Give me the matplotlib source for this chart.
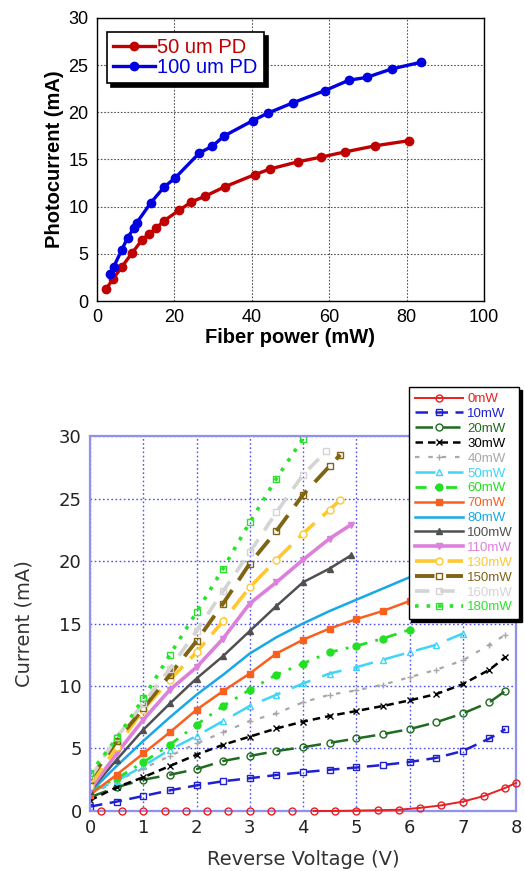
import matplotlib
matplotlib.use("Agg")
import matplotlib.pyplot as plt
import numpy as np

plt.rcParams['font.family'] = ['Liberation Sans', 'DejaVu Sans']

# ---- top chart: photocurrent vs fiber power ----
p50 = [2.4, 4.1, 6.4, 9.1, 11.7, 13.4, 15.3, 17.3, 21.2, 24.4, 27.9, 33.0, 40.8,
       44.8, 51.9, 57.9, 64.1, 71.9, 80.7]
i50 = [1.3, 2.3, 3.6, 5.1, 6.5, 7.1, 7.7, 8.5, 9.6, 10.5, 11.1, 12.1, 13.4,
       14.0, 14.75, 15.25, 15.8, 16.45, 17.0]
p100 = [3.4, 4.3, 6.4, 7.9, 9.5, 10.3, 13.9, 17.4, 20.1, 26.5, 29.8, 32.9, 40.2,
        44.1, 50.6, 58.9, 65.1, 69.7, 76.2, 83.7]
i100 = [2.9, 3.6, 5.4, 6.7, 7.7, 8.3, 10.4, 12.1, 13.0, 15.7, 16.4, 17.5, 19.1,
        19.9, 21.0, 22.3, 23.4, 23.7, 24.6, 25.3]

# ---- bottom chart: current vs reverse voltage ----
v_half = [0, 0.5, 1, 1.5, 2, 2.5, 3, 3.5, 4, 4.5, 5, 5.5, 6, 6.5, 7, 7.5, 7.8]

v0 = [0.2, 0.6, 1.0, 1.4, 1.8, 2.2, 2.6, 3.0, 3.4, 3.8, 4.2, 4.6, 5.0, 5.4, 5.8,
      6.2, 6.6, 7.0, 7.4, 7.8, 8.0]
c0 = [0, 0, 0, 0, 0, 0, 0, 0, 0, 0, 0, 0, 0.03, 0.06, 0.1, 0.25, 0.45, 0.75,
      1.2, 1.85, 2.25]
c10 = [0.35, 0.75, 1.2, 1.65, 2.05, 2.38, 2.62, 2.88, 3.1, 3.3, 3.48, 3.68, 3.92,
       4.25, 4.8, 5.8, 6.55]
c20 = [1.1, 1.9, 2.5, 2.9, 3.35, 4.0, 4.4, 4.8, 5.1, 5.45, 5.8, 6.15, 6.55, 7.1,
       7.8, 8.7, 9.6]
c30 = [0.85, 1.9, 2.7, 3.6, 4.5, 5.3, 5.95, 6.6, 7.15, 7.6, 8.0, 8.4, 8.85, 9.35,
       10.15, 11.3, 12.3]
c40 = [1.3, 2.4, 3.4, 4.4, 5.4, 6.3, 7.2, 7.8, 8.7, 9.3, 9.65, 10.1, 10.7, 11.3,
       12.05, 13.3, 14.1]
c50 = [1.5, 2.4, 3.6, 4.9, 6.0, 7.2, 8.4, 9.3, 10.2, 11.0, 11.5, 12.1, 12.7, 13.3, 14.2]
c60 = [1.6, 2.6, 3.9, 5.3, 6.9, 8.4, 9.7, 10.9, 11.8, 12.7, 13.2, 13.8, 14.5]
c70 = [1.3, 2.9, 4.6, 6.3, 8.1, 9.6, 11.0, 12.6, 13.7, 14.6, 15.35, 16.0, 16.8]
c80 = [1.5, 3.6, 5.6, 7.5, 9.3, 10.9, 12.6, 13.9, 15.0, 16.0, 16.9, 17.8, 18.7]
c100 = [1.6, 4.1, 6.5, 8.6, 10.6, 12.4, 14.4, 16.4, 18.3, 19.4, 20.45]
c110 = [1.7, 4.6, 7.3, 9.7, 11.5, 13.8, 16.6, 18.3, 20.1, 21.8, 22.9]
c130 = [2.0, 5.1, 8.1, 10.5, 12.7, 15.2, 17.9, 20.1, 22.2, 24.1, 24.9]
c150 = [2.5, 5.6, 8.2, 10.9, 13.6, 16.6, 19.8, 22.4, 25.3, 27.6, 28.5]
c160 = [2.6, 5.9, 8.6, 11.4, 14.4, 17.6, 20.7, 23.9, 26.9, 28.8]
c180 = [3.0, 5.8, 9.0, 12.5, 15.9, 19.4, 23.1, 26.6, 29.8]
v_end100 = 4.9
v_end130 = 4.7
v_end160 = 4.44

fig = plt.figure(figsize=(5.24, 8.71), dpi=100)

# top panel
ax1 = fig.add_axes([0.185, 0.6544, 0.7385, 0.325])
ax1.plot(p50, i50, '-o', color='#c00000', lw=2.4, ms=6, label='50 um PD')
ax1.plot(p100, i100, '-o', color='#0000e0', lw=2.4, ms=6, label='100 um PD')
ax1.set_xlim(0, 100)
ax1.set_ylim(0, 30)
ax1.set_xticks(range(0, 101, 20))
ax1.set_yticks(range(0, 31, 5))
ax1.tick_params(length=0, labelsize=13, pad=6)
ax1.grid(True, linestyle=(0, (1.5, 1.5)), color='#555555', lw=0.8)
for s in ax1.spines.values():
    s.set_linewidth(1.0)
ax1.set_xlabel('Fiber power (mW)', fontsize=14.5, fontweight='bold', labelpad=1)
ax1.set_ylabel('Photocurrent (mA)', fontsize=14.5, fontweight='bold', labelpad=3)
leg1 = ax1.legend(loc='upper left', bbox_to_anchor=(0.026, 0.952), fontsize=14.5,
                  handlelength=2.1, handletextpad=0.1, borderpad=0.3,
                  labelspacing=0.05, borderaxespad=0, fancybox=False, framealpha=1,
                  shadow={'ox': 3, 'oy': -3, 'facecolor': 'k', 'edgecolor': 'k', 'alpha': 1})
leg1.get_frame().set_edgecolor('k')
leg1.get_frame().set_linewidth(1.2)
for t, c in zip(leg1.get_texts(), ['#c00000', '#0000e0']):
    t.set_color(c)

# bottom panel
ax2 = fig.add_axes([0.1718, 0.0689, 0.813, 0.4305])


def vs(c):
    return v_half[:len(c)]


series = [
    (v0, c0, '0mW', '#e82020', '-', 'o', 'none', 1.4),
    (vs(c10), c10, '10mW', '#2020d0', (0, (5, 3)), 's', 'none', 1.8),
    (vs(c20), c20, '20mW', '#1f6b1f', (0, (7, 4)), 'o', 'none', 1.8),
    (vs(c30), c30, '30mW', '#000000', (0, (3, 2)), 'x', None, 1.8),
    (vs(c40), c40, '40mW', '#a8a8a8', (0, (2, 4)), '+', None, 1.6),
    (vs(c50), c50, '50mW', '#40d4f8', (0, (8, 5)), '^', 'none', 1.8),
    (vs(c60), c60, '60mW', '#22e022', (0, (4, 3, 1, 3)), 'o', None, 2.0),
    (vs(c70), c70, '70mW', '#f86020', '-', 's', None, 1.8),
    (vs(c80), c80, '80mW', '#18a8e6', '-', None, None, 1.8),
    (vs(c100)[:-1] + [v_end100], c100, '100mW', '#505050', '-', '^', None, 1.8),
    (vs(c110)[:-1] + [v_end100], c110, '110mW', '#dc80dc', '-', 'v', None, 2.6),
    (vs(c130)[:-1] + [v_end130], c130, '130mW', '#ffc830', (0, (6, 3)), 'o', 'white', 2.6),
    (vs(c150)[:-1] + [v_end130], c150, '150mW', '#806414', (0, (5, 3)), 's', 'none', 2.8),
    (vs(c160)[:-1] + [v_end160], c160, '160mW', '#d4d4d4', (0, (4, 3)), 's', 'none', 2.6),
    (vs(c180), c180, '180mW', '#28e428', (0, (1, 2.2)), 's', 'none', 2.6),
]

handles = []
for x, y, lab, col, ls, mk, mfc, lw in series:
    kw = dict(color=col, ls=ls, lw=lw, label=lab)
    if mk is not None:
        kw.update(marker=mk, ms=5, mew=1.0)
        if mfc is not None:
            kw.update(mfc=mfc)
    if lab == '0mW':
        # flat part hides under the axis line; only markers show there
        ax2.plot(x[:10], y[:10], ls='none', marker='o', ms=5, mfc='none',
                 mec=col, mew=1.0, clip_on=False, zorder=3)
        h, = ax2.plot(x[10:], y[10:], clip_on=False, zorder=3, **kw)
    else:
        h, = ax2.plot(x, y, **kw)
    handles.append(h)

ax2.set_xlim(0, 8)
ax2.set_ylim(0, 30)
ax2.set_xticks(range(0, 9))
ax2.set_yticks(range(0, 31, 5))
ax2.tick_params(length=0, labelsize=13, labelcolor='#222222', pad=6)
for lbl in ax2.get_xticklabels() + ax2.get_yticklabels():
    lbl.set_family('DejaVu Sans')
ax2.grid(True, linestyle=(0, (1.2, 1.8)), color='#5050ff', lw=1.0)
for s in ax2.spines.values():
    s.set_color('#9090f0')
    s.set_linewidth(1.6)
ax2.set_xlabel('Reverse Voltage (V)', fontsize=14, color='#333333', labelpad=9,
               family='DejaVu Sans')
ax2.set_ylabel('Current (mA)', fontsize=14, color='#333333', labelpad=18,
               family='DejaVu Sans')

leg2 = fig.legend(handles=handles, loc='upper right',
                  bbox_to_anchor=(519 / 524, 1 - 387 / 871), fontsize=9.5,
                  handlelength=3.7, handletextpad=0.3, borderpad=0.45,
                  labelspacing=0.2, borderaxespad=0, fancybox=False, framealpha=1,
                  shadow={'ox': 2, 'oy': -2, 'facecolor': 'k', 'edgecolor': 'k', 'alpha': 1})
leg2.get_frame().set_edgecolor('k')
leg2.get_frame().set_linewidth(1.0)
for t, s in zip(leg2.get_texts(), series):
    t.set_color(s[3])

fig.savefig('out.png', dpi=100)
